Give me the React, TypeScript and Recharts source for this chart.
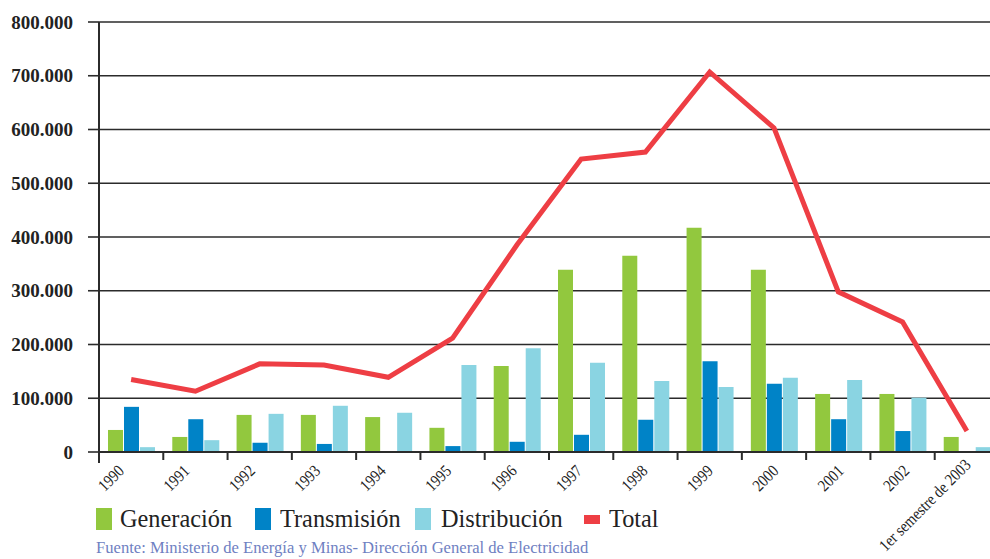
import React from "react";
import {
  ComposedChart,
  Bar,
  Line,
  XAxis,
  YAxis,
  CartesianGrid,
} from "recharts";

const categories = [
  "1990", "1991", "1992", "1993", "1994", "1995", "1996",
  "1997", "1998", "1999", "2000", "2001", "2002", "1er semestre de 2003",
];
const generacion = [41000, 28000, 69000, 69000, 65000, 45000, 160000, 339000, 365000, 417000, 339000, 108000, 108000, 28000];
const transmision = [84000, 61000, 17000, 15000, 0, 11000, 19000, 32000, 60000, 169000, 127000, 61000, 39000, 0];
const distribucion = [9000, 22000, 71000, 86000, 73000, 162000, 193000, 166000, 132000, 121000, 138000, 134000, 101000, 9000];
const total = [135000, 113000, 164000, 162000, 139000, 212000, 385000, 545000, 558000, 707000, 603000, 298000, 242000, 39000];
const yTicks = [0, 100000, 200000, 300000, 400000, 500000, 600000, 700000, 800000];

const data = categories.map((c, i) => ({
  name: c,
  gen: generacion[i],
  trans: transmision[i],
  dist: distribucion[i],
  total: total[i],
}));

const GREEN = "#92C83E";
const BLUE = "#0083C7";
const CYAN = "#8AD4E2";
const RED = "#EE3E44";
const DARK = "#2b2b2b";

const fmt = (v: number) =>
  v === 0 ? "0" : v.toLocaleString("de-DE");

const XTick = (props: any) => {
  const { x, y, payload, index, visibleTicksCount } = props;
  const half = payload && payload.offset ? payload.offset : 32;
  const count = visibleTicksCount ?? categories.length;
  const isLast = index === count - 1;
  const dx = isLast ? 5 : -6 + index * 1.15;
  const dy = isLast ? 14 : 20;
  return (
    <g>
      <line x1={x - half} x2={x - half} y1={y} y2={y + (index === 0 ? 11 : 8)} stroke={DARK} strokeWidth={2} />
      {isLast && (
        <line x1={x + half} x2={x + half} y1={y} y2={y + 8} stroke={DARK} strokeWidth={2} />
      )}
      <text
        transform={`translate(${x + dx},${y + dy}) rotate(-45) scale(0.9,1.05)`}
        textAnchor="end"
        fontFamily="'Liberation Serif', serif"
        fontSize={16}
        fill="#222"
      >
        {payload.value}
      </text>
    </g>
  );
};

const legendItems = [
  { label: "Generación", color: GREEN, left: 96, textLeft: 120, type: "box" },
  { label: "Transmisión", color: BLUE, left: 255, textLeft: 280, type: "box" },
  { label: "Distribución", color: CYAN, left: 415, textLeft: 441, type: "box" },
  { label: "Total", color: RED, left: 584, textLeft: 609, type: "line" },
];

export default function App() {
  return (
    <div
      style={{
        position: "absolute",
        left: 0,
        top: 0,
        width: 990,
        height: 559,
        overflow: "hidden",
        background: "#fff",
      }}
    >
      <ComposedChart
        width={1010}
        height={559}
        data={data}
        margin={{ top: 22, right: 11, bottom: 0, left: 0 }}
        barSize={15}
        barGap={1}
      >
        <CartesianGrid horizontal vertical={false} stroke={DARK} strokeWidth={1.6} strokeOpacity={1} />
        <XAxis
          dataKey="name"
          height={107}
          interval={0}
          tickLine={false}
          tickSize={0}
          tickMargin={0}
          axisLine={{ stroke: DARK, strokeWidth: 2 }}
          tick={<XTick />}
        />
        <YAxis
          width={99}
          domain={[0, 800000]}
          ticks={yTicks}
          interval={0}
          tickFormatter={fmt}
          tickSize={11}
          tickMargin={15}
          tickLine={{ stroke: DARK, strokeWidth: 1.6 }}
          axisLine={{ stroke: DARK, strokeWidth: 2 }}
          tick={{
            fontFamily: "'Liberation Serif', serif",
            fontWeight: "bold",
            fontSize: 19,
            fill: "#222",
          }}
        />
        <Bar dataKey="gen" fill={GREEN} isAnimationActive={false} />
        <Bar dataKey="trans" fill={BLUE} isAnimationActive={false} />
        <Bar dataKey="dist" fill={CYAN} isAnimationActive={false} />
        <Line
          dataKey="total"
          type="linear"
          stroke={RED}
          strokeWidth={5}
          dot={false}
          activeDot={false}
          isAnimationActive={false}
        />
      </ComposedChart>
      {legendItems.map((it) => (
        <React.Fragment key={it.label}>
          <div
            style={{
              position: "absolute",
              left: it.left,
              top: it.type === "box" ? 508 : 515,
              width: 16,
              height: it.type === "box" ? 22 : 9,
              background: it.color,
            }}
          />
          <div
            style={{
              position: "absolute",
              left: it.textLeft,
              top: 503,
              fontFamily: "'Liberation Serif', serif",
              fontSize: 26,
              lineHeight: "32px",
              color: "#222",
              whiteSpace: "nowrap",
              transform: "scaleX(0.935)",
              transformOrigin: "left center",
            }}
          >
            {it.label}
          </div>
        </React.Fragment>
      ))}
      <div
        style={{
          position: "absolute",
          left: 96,
          top: 538,
          fontFamily: "'Liberation Serif', serif",
          fontSize: 16.6,
          lineHeight: "20px",
          color: "#6F7FC2",
          whiteSpace: "nowrap",
        }}
      >
        Fuente: Ministerio de Energía y Minas- Dirección General de Electricidad
      </div>
    </div>
  );
}
